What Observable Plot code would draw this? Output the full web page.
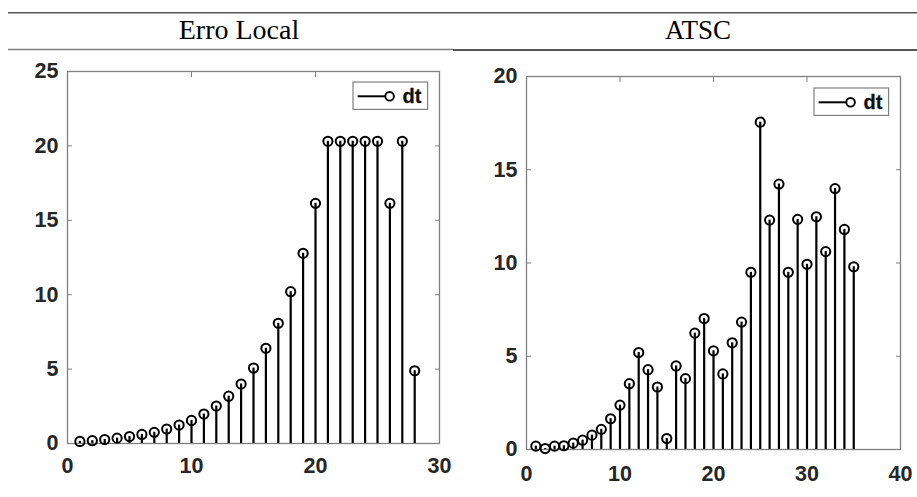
<!DOCTYPE html>
<html>
<head>
<meta charset="utf-8">
<script src="https://cdn.jsdelivr.net/npm/d3@7"></script>
<script src="https://cdn.jsdelivr.net/npm/@observablehq/plot@0.6"></script>
<style>
  html, body { margin: 0; padding: 0; background: #fff; }
  #page { position: relative; width: 917px; height: 497px; overflow: hidden; }
  .abs { position: absolute; }
</style>
</head>
<body>
<div id="page"></div>
<script>
// ---- data ----
const titles = ["Erro Local", "ATSC"];
const legendLabel = "dt";

const localX = d3.range(1, 29);
const localDt = [0.14, 0.19, 0.27, 0.36, 0.47, 0.61, 0.75, 0.97, 1.24, 1.55,
  1.98, 2.52, 3.18, 4.0, 5.07, 6.4, 8.08, 10.2, 12.78, 16.14,
  20.31, 20.31, 20.31, 20.31, 20.31, 16.14, 20.31, 4.89];

const atscX = d3.range(1, 36);
const atscDt = [0.18, 0.05, 0.18, 0.2, 0.34, 0.5, 0.77, 1.08, 1.65, 2.38,
  3.53, 5.2, 4.28, 3.35, 0.59, 4.48, 3.8, 6.24, 7.02, 5.29,
  4.05, 5.72, 6.83, 9.5, 17.55, 12.3, 14.23, 9.5, 12.34, 9.93,
  12.48, 10.61, 13.99, 11.8, 9.8];

const localXTicks = [0, 10, 20, 30];
const localYTicks = [0, 5, 10, 15, 20, 25];
const atscXTicks = [0, 10, 20, 30, 40];
const atscYTicks = [0, 5, 10, 15, 20];

const page = document.getElementById("page");
const ns = "http://www.w3.org/2000/svg";

function el(tag, attrs, parent) {
  const e = document.createElementNS(ns, tag);
  for (const k in attrs) e.setAttribute(k, attrs[k]);
  if (parent) parent.appendChild(e);
  return e;
}

// ---- header (titles + rules) ----
const head = el("svg", {width: 917, height: 56, class: "abs"});
head.style.left = "0px"; head.style.top = "0px";
el("line", {x1: 8, x2: 917, y1: 12.7, y2: 12.7, stroke: "#555", "stroke-width": 1.6}, head);
el("line", {x1: 8, x2: 453, y1: 49.5, y2: 49.5, stroke: "#808080", "stroke-width": 1.5}, head);
el("line", {x1: 453, x2: 917, y1: 50, y2: 50, stroke: "#555", "stroke-width": 2}, head);
[[239, titles[0], 28], [698, titles[1], 27]].forEach(([x, t, fs]) => {
  const tx = el("text", {x, y: 39, "text-anchor": "middle", "font-family": "Liberation Serif, Times New Roman, serif", "font-size": fs, fill: "#000"}, head);
  tx.textContent = t;
});
page.appendChild(head);

// ---- panels ----
function panel({xs, ys, xDomain, yDomain, xTicks, yTicks, left, top, width, height, mL, mR, mT, mB, xPad}) {
  const data = xs.map((x, i) => ({x, y: ys[i]}));
  const tickStyle = {fontFamily: "Liberation Sans, Arial, sans-serif", fontWeight: "bold", fontSize: 21.5, fill: "#262626", stroke: "#262626", strokeWidth: 0.35};
  const chart = Plot.plot({
    width, height,
    marginLeft: mL, marginRight: mR, marginTop: mT, marginBottom: mB,
    style: {background: "transparent", overflow: "visible"},
    x: {domain: xDomain, label: null},
    y: {domain: yDomain, label: null},
    marks: [
      Plot.frame({stroke: "#808080", strokeWidth: 1.3}),
      Plot.axisX(xTicks, {anchor: "bottom", tickSize: 0, tickPadding: xPad, ...tickStyle, label: null}),
      Plot.axisY(yTicks, {anchor: "left", tickSize: 0, tickPadding: 9, ...tickStyle, label: null}),
      Plot.axisX(xTicks, {anchor: "bottom", tickSize: -5, stroke: "#808080", tickFormat: () => "", label: null}),
      Plot.axisX(xTicks, {anchor: "top", tickSize: -5, stroke: "#808080", tickFormat: () => "", label: null}),
      Plot.axisY(yTicks, {anchor: "left", tickSize: -5, stroke: "#808080", tickFormat: () => "", label: null}),
      Plot.axisY(yTicks, {anchor: "right", tickSize: -5, stroke: "#808080", tickFormat: () => "", label: null}),
      Plot.ruleX(data, {x: "x", y1: 0, y2: "y", stroke: "black", strokeWidth: 2.2}),
      Plot.dot(data, {x: "x", y: "y", r: 4.6, stroke: "black", strokeWidth: 2, fill: "none"})
    ]
  });
  chart.classList.add("abs");
  chart.style.left = left + "px";
  chart.style.top = top + "px";
  page.appendChild(chart);
}

panel({xs: localX, ys: localDt, xDomain: [0, 30], yDomain: [0, 25], xTicks: localXTicks, yTicks: localYTicks,
  left: 0, top: 50, width: 455, height: 447, mL: 67, mR: 16, mT: 21, mB: 54, xPad: 14});
panel({xs: atscX, ys: atscDt, xDomain: [0, 40], yDomain: [0, 20], xTicks: atscXTicks, yTicks: atscYTicks,
  left: 455, top: 50, width: 462, height: 447, mL: 71, mR: 17, mT: 26, mB: 48, xPad: 16});

// ---- legends ----
function legend(bx, by) {
  const s = el("svg", {width: 80, height: 32, class: "abs"});
  s.style.left = (bx - 1) + "px"; s.style.top = (by - 1) + "px";
  el("rect", {x: 1, y: 1, width: 74.6, height: 27.4, fill: "white", stroke: "#808080", "stroke-width": 1.2}, s);
  el("line", {x1: 5.6, x2: 33, y1: 15.3, y2: 15.3, stroke: "black", "stroke-width": 2}, s);
  el("circle", {cx: 37.6, cy: 15.3, r: 4.3, fill: "none", stroke: "black", "stroke-width": 1.9}, s);
  const t = el("text", {x: 50.5, y: 22, "font-family": "Liberation Sans, Arial, sans-serif", "font-weight": "bold", "font-size": 20, fill: "#111", stroke: "#111", "stroke-width": 0.3}, s);
  t.textContent = legendLabel;
  page.appendChild(s);
}
legend(352.7, 81.7);
legend(813.7, 88);
</script>
</body>
</html>
